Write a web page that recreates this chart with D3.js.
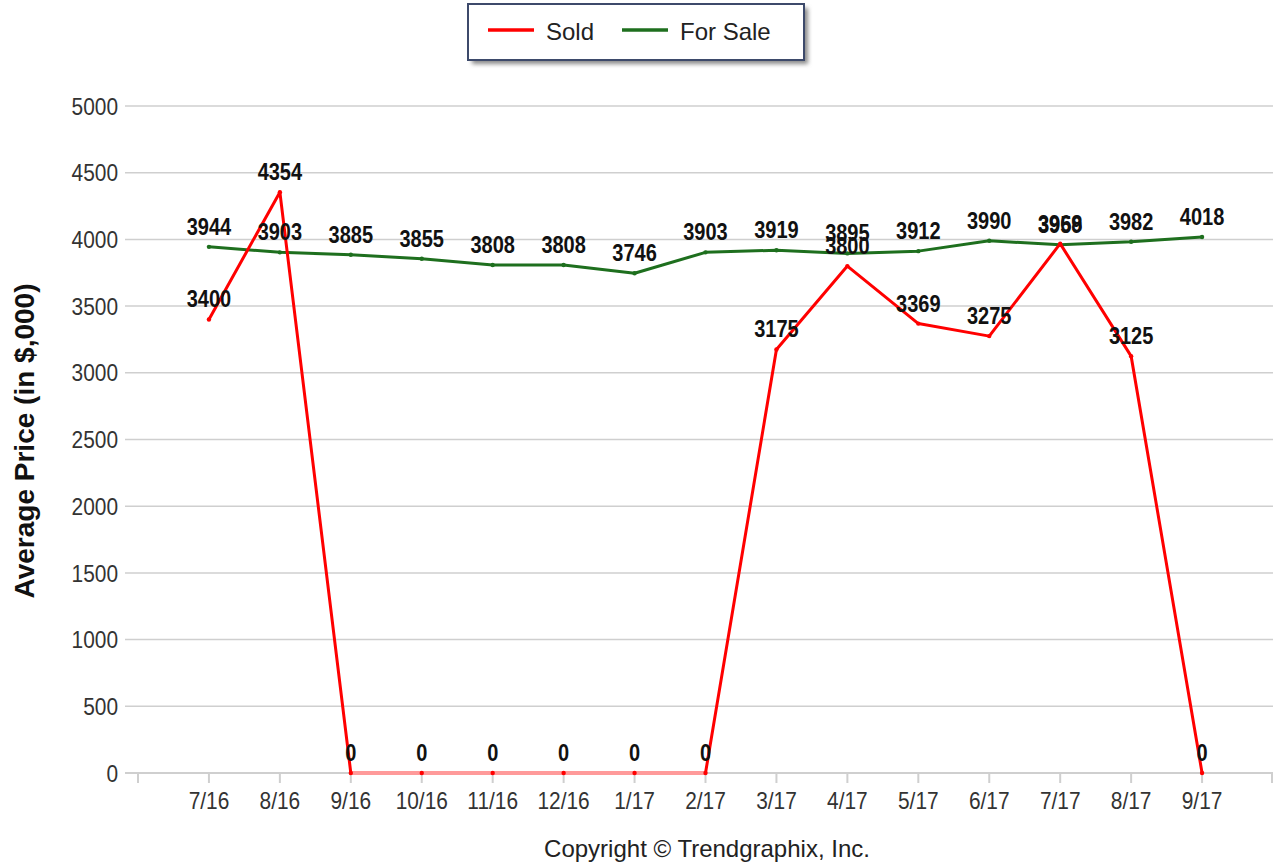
<!DOCTYPE html>
<html>
<head>
<meta charset="utf-8">
<script src="https://cdn.jsdelivr.net/npm/d3@7/dist/d3.min.js"></script>
<style>
  html, body { margin: 0; padding: 0; background: #fff; }
  svg { display: block; }
</style>
</head>
<body>
<svg id="chart" width="1275" height="865"></svg>
<script>
const months = ["7/16","8/16","9/16","10/16","11/16","12/16","1/17","2/17","3/17","4/17","5/17","6/17","7/17","8/17","9/17"];
const sold = [3400, 4354, 0, 0, 0, 0, 0, 0, 3175, 3800, 3369, 3275, 3968, 3125, 0];
const forSale = [3944, 3903, 3885, 3855, 3808, 3808, 3746, 3903, 3919, 3895, 3912, 3990, 3959, 3982, 4018];
const yTicks = [0, 500, 1000, 1500, 2000, 2500, 3000, 3500, 4000, 4500, 5000];
const seriesNames = ["Sold", "For Sale"];
const seriesColors = ["#ff0000", "#1e6f1e"];

const svg = d3.select("#chart");
const x = d3.scaleLinear().domain([-1, months.length]).range([138, 1273]);
const y = d3.scaleLinear().domain([0, 5000]).range([773, 106]);
const xLeft = 125, xRight = 1273;
const NARROW = 0.87;
const baseFont = "Liberation Sans, Arial, sans-serif";

const defs = svg.append("defs");
const f = defs.append("filter").attr("id", "shadow").attr("x", "-10%").attr("y", "-30%").attr("width", "130%").attr("height", "170%");
f.append("feGaussianBlur").attr("stdDeviation", 2);

// gridlines
svg.append("g").selectAll("line").data(yTicks.filter(d => d > 0)).join("line")
  .attr("x1", xLeft).attr("x2", xRight)
  .attr("y1", d => y(d)).attr("y2", d => y(d))
  .attr("stroke", "#cfcfcf").attr("stroke-width", 1.5);

// y tick labels
svg.append("g").selectAll("text").data(yTicks).join("text")
  .attr("transform", d => `translate(118,${y(d)}) scale(${NARROW},1)`)
  .attr("dy", "0.36em")
  .attr("text-anchor", "end")
  .attr("font-family", baseFont)
  .attr("font-size", 24).attr("fill", "#333")
  .text(d => d);

// x axis line + ticks
svg.append("line").attr("x1", xLeft).attr("x2", xRight).attr("y1", y(0)).attr("y2", y(0))
  .attr("stroke", "#cfcfcf").attr("stroke-width", 2);
const tickIdx = d3.range(-1, months.length + 1);
svg.append("g").selectAll("line").data(tickIdx).join("line")
  .attr("x1", d => Math.min(x(d), xRight - 1)).attr("x2", d => Math.min(x(d), xRight - 1))
  .attr("y1", y(0)).attr("y2", y(0) + 10)
  .attr("stroke", "#cfcfcf").attr("stroke-width", 2);

// x labels
svg.append("g").selectAll("text").data(months).join("text")
  .attr("transform", (d, i) => `translate(${x(i)},809) scale(${NARROW},1)`)
  .attr("text-anchor", "middle")
  .attr("font-family", baseFont)
  .attr("font-size", 24).attr("fill", "#333")
  .text(d => d);

const line = d3.line().x((d, i) => x(i)).y(d => y(d));

// For Sale line
svg.append("path").datum(forSale).attr("d", line)
  .attr("fill", "none").attr("stroke", seriesColors[1]).attr("stroke-width", 3).attr("stroke-linejoin", "round");
svg.append("g").selectAll("circle").data(forSale).join("circle")
  .attr("cx", (d, i) => x(i)).attr("cy", d => y(d)).attr("r", 2.2).attr("fill", seriesColors[1]);

// Sold line
svg.append("path").datum(sold).attr("d", line)
  .attr("fill", "none").attr("stroke", seriesColors[0]).attr("stroke-width", 3).attr("stroke-linejoin", "round");
const zeroSeg = sold.map((d, i) => (d === 0 && (sold[i + 1] === 0 || sold[i - 1] === 0)) ? d : null);
svg.append("path").datum(zeroSeg)
  .attr("d", d3.line().defined(d => d !== null).x((d, i) => x(i)).y(d => y(d)))
  .attr("fill", "none").attr("stroke", "#ff9a9a").attr("stroke-width", 4);
svg.append("g").selectAll("circle").data(sold).join("circle")
  .attr("cx", (d, i) => x(i)).attr("cy", d => y(d)).attr("r", 2.2).attr("fill", seriesColors[0]);

// data labels
function labels(data) {
  svg.append("g").selectAll("text").data(data).join("text")
    .attr("transform", (d, i) => `translate(${x(i)},${y(d) - 12}) scale(${NARROW},1)`)
    .attr("text-anchor", "middle")
    .attr("font-family", baseFont).attr("font-weight", "bold")
    .attr("font-size", 23).attr("fill", "#111")
    .text(d => d);
}
labels(forSale);
labels(sold);

// y axis title
svg.append("text")
  .attr("transform", "translate(34,441) rotate(-90)")
  .attr("text-anchor", "middle")
  .attr("font-family", baseFont)
  .attr("font-weight", "bold").attr("font-size", 28).attr("fill", "#111")
  .text("Average Price (in $,000)");

// copyright
svg.append("text")
  .attr("x", 707).attr("y", 857).attr("text-anchor", "middle")
  .attr("font-family", baseFont)
  .attr("font-size", 24).attr("fill", "#222")
  .text("Copyright © Trendgraphix, Inc.");

// legend
const lg = svg.append("g");
lg.append("rect").attr("x", 472).attr("y", 8).attr("width", 336).attr("height", 56)
  .attr("fill", "#8a8a8a").attr("filter", "url(#shadow)");
lg.append("rect").attr("x", 468).attr("y", 4).attr("width", 336).attr("height", 56)
  .attr("fill", "#fff").attr("stroke", "#3d4a6b").attr("stroke-width", 2);
const legendX = [[488, 546], [622, 680]];
seriesNames.forEach((name, k) => {
  lg.append("line").attr("x1", legendX[k][0]).attr("x2", legendX[k][0] + 46)
    .attr("y1", 30).attr("y2", 30).attr("stroke", seriesColors[k]).attr("stroke-width", 3.5);
  lg.append("text").attr("x", legendX[k][1]).attr("y", 40)
    .attr("font-family", baseFont)
    .attr("font-size", 24).attr("fill", "#222").text(name);
});
</script>
</body>
</html>
